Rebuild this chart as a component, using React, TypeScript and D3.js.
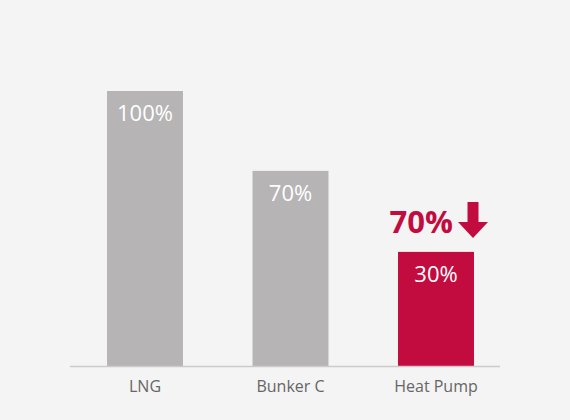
import React from 'react';
import * as d3 from 'd3';

const categories = ['LNG', 'Bunker C', 'Heat Pump'];
// bar lengths as drawn in the picture (relative to LNG = 100)
const barHeights = [100, 71, 41.6];
const barLabels = ['100%', '70%', '30%'];
const highlightIndex = 2;
const savingLabel = '70%';

const W = 570;
const H = 420;
const baseY = 366.5;
const topY = 91;

const grey = '#b6b4b4';
const red = '#c20c3f';

export default function App() {
  const x = d3.scaleBand<string>()
    .domain(categories)
    .range([72.25, 508.75])
    .paddingInner(0.478)
    .paddingOuter(0.239);

  const y = d3.scaleLinear().domain([0, 100]).range([baseY, topY]);

  const hx = (x(categories[highlightIndex]) || 0) + x.bandwidth() / 2;
  const hy = y(barHeights[highlightIndex]);

  // down arrow next to the saving label
  const ax = hx + 37;
  const arrow = d3.path();
  arrow.moveTo(ax - 5.5, hy - 50);
  arrow.lineTo(ax + 5.5, hy - 50);
  arrow.lineTo(ax + 5.5, hy - 30);
  arrow.lineTo(ax + 15, hy - 30);
  arrow.lineTo(ax, hy - 14);
  arrow.lineTo(ax - 15, hy - 30);
  arrow.lineTo(ax - 5.5, hy - 30);
  arrow.closePath();

  return (
    <div style={{ position: 'absolute', left: 0, top: 0 }}>
      <svg width={W} height={H} style={{ display: 'block', fontFamily: '"Open Sans", sans-serif' }}>
        <rect width={W} height={H} fill="#f4f4f4" />
        {categories.map((c, i) => (
          <g key={c}>
            <rect
              x={x(c)}
              y={y(barHeights[i])}
              width={x.bandwidth()}
              height={baseY - y(barHeights[i])}
              fill={i === highlightIndex ? red : grey}
            />
            <text
              x={(x(c) || 0) + x.bandwidth() / 2}
              y={y(barHeights[i]) + 30}
              textAnchor="middle"
              fill="#ffffff"
              fontSize={22}
              fontWeight={400}
            >
              {barLabels[i]}
            </text>
            <text
              x={(x(c) || 0) + x.bandwidth() / 2}
              y={391.5}
              textAnchor="middle"
              fill="#666666"
              fontSize={16}
              fontWeight={400}
            >
              {c}
            </text>
          </g>
        ))}
        <line x1={70} x2={500} y1={baseY} y2={baseY} stroke="#cbcbcb" strokeWidth={1.5} />
        <text
          x={hx + 17}
          y={hy - 19}
          textAnchor="end"
          fill={red}
          fontSize={31}
          fontWeight={700}
        >
          {savingLabel}
        </text>
        <path d={arrow.toString()} fill={red} />
      </svg>
    </div>
  );
}
